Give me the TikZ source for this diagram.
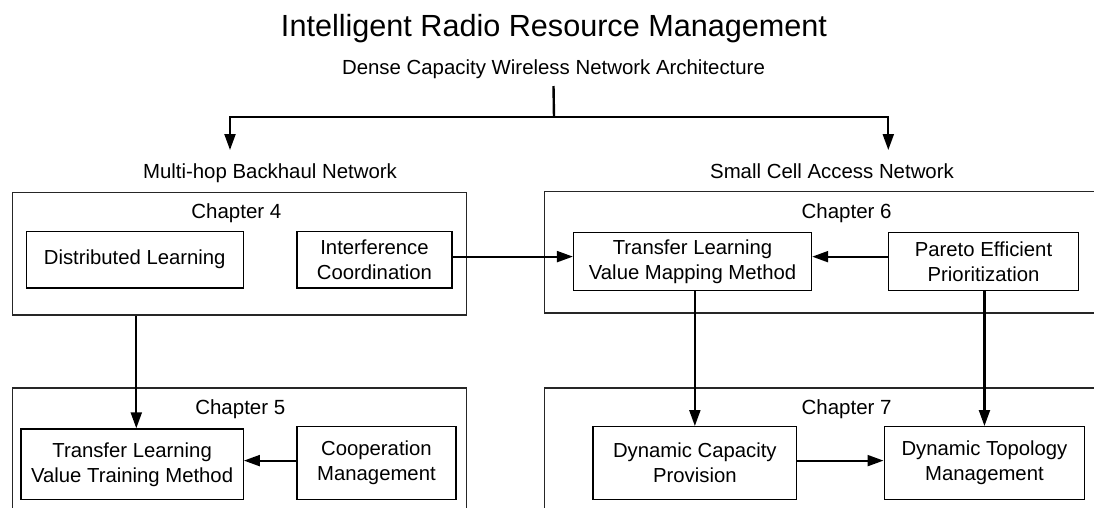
\documentclass[tikz,border=0pt]{standalone}
\usepackage{fontspec}
\setmainfont{Liberation Sans}
\usetikzlibrary{arrows.meta}
\begin{document}
\begin{tikzpicture}[x=1pt,y=-1pt,
  titletext/.style={font=\fontsize{30.6}{34}\selectfont, anchor=base, inner sep=0pt},
  headtext/.style={font=\fontsize{20.4}{24}\selectfont, anchor=base, inner sep=0pt},
  chaptext/.style={font=\fontsize{20.5}{24}\selectfont, anchor=base, inner sep=0pt},
  chapbox/.style={draw=black!85, line width=1.2pt, anchor=north west, inner sep=0pt},
  blk/.style={draw=black, line width=1.2pt, anchor=north west, inner sep=0pt,
    align=center, font=\fontsize{20.3}{25}\selectfont},
  arr/.style={line width=2.1pt, -{Triangle[length=16pt,width=11pt]}},
  plain/.style={line width=2.4pt}
]
\useasboundingbox (0,0) rectangle (1094,507);
\clip (0,0) rectangle (1094,507);

% headings
\node[titletext] (title) at (554,36) {Intelligent Radio Resource Management};
\node[headtext] (arch) at (553.5,74) {Dense Capacity Wireless Network Architecture};
\node[headtext] (mhbn) at (270,178.3) {Multi-hop Backhaul Network};
\node[headtext] (scan) at (832,178.3) {Small Cell Access Network};

% chapter frames
\node[chapbox, minimum width=454.2pt, minimum height=122.6pt] (ch4) at (11.6,191.7) {};
\node[chapbox, minimum width=570pt, minimum height=121.6pt] (ch6) at (543.5,190.7) {};
\node[chapbox, minimum width=454.2pt, minimum height=140pt] (ch5) at (11.6,387.3) {};
\node[chapbox, minimum width=570pt, minimum height=140pt] (ch7) at (543.5,387.3) {};

\node[chaptext] (ch4lab) at (236.4,218.3) {Chapter 4};
\node[chaptext] (ch6lab) at (846.6,218.3) {Chapter 6};
\node[chaptext] (ch5lab) at (240.3,414.3) {Chapter 5};
\node[chaptext] (ch7lab) at (846.6,414.3) {Chapter 7};

% topic blocks
\node[blk, minimum width=217.1pt, minimum height=56.6pt] (dl) at (25.6,230.7) {Distributed Learning};
\node[blk, minimum width=155pt, minimum height=56.6pt] (ic) at (296.4,230.7) {Interference\\Coordination};
\node[blk, minimum width=238.1pt, minimum height=58.3pt] (tlvmm) at (572.9,231.7) {Transfer Learning\\Value Mapping Method};
\node[blk, minimum width=189.8pt, minimum height=58.3pt] (pep) at (888,231.7) {Pareto Efficient\\Prioritization};
\node[blk, minimum width=222.4pt, minimum height=70.7pt] (tlvtm) at (20.3,428.3) {Transfer Learning\\Value Training Method};
\node[blk, minimum width=158.9pt, minimum height=73pt] (cm) at (296.4,426) {Cooperation\\Management};
\node[blk, minimum width=203.9pt, minimum height=73pt] (dcp) at (592.3,426) {Dynamic Capacity\\Provision};
\node[blk, minimum width=200.7pt, minimum height=73pt] (dtm) at (883.5,426) {Dynamic Topology\\Management};

% split of the architecture into the two networks
\coordinate (split) at (554,117.3);
\coordinate (lefttip) at (230,150);
\coordinate (righttip) at (888.3,150);
\draw[plain] ([yshift=-12pt]arch.base) -- (split);
\draw[arr] (split) -| (lefttip);
\draw[arr] (split) -| (righttip);

% dependencies between chapters
\draw[arr] ([yshift=3pt]ic.east) -- ([yshift=3pt]ic.east -| tlvmm.west);
\draw[arr] ([yshift=4.8pt]pep.west) -- ([yshift=4.8pt]pep.west -| tlvmm.east);
\draw[arr] ([xshift=4.2pt]tlvtm.north |- ch4.south) -- ([xshift=4.2pt]tlvtm.north);
\draw[arr] ([yshift=2.5pt]cm.west) -- ([yshift=2.5pt]cm.west -| tlvtm.east);
\draw[arr] (dcp.north |- tlvmm.south) -- (dcp.north);
\draw[arr] (dtm.north |- pep.south) -- (dtm.north);
\draw[arr] ([yshift=2.5pt]dcp.east) -- ([yshift=2.5pt]dcp.east -| dtm.west);
\end{tikzpicture}
\end{document}
